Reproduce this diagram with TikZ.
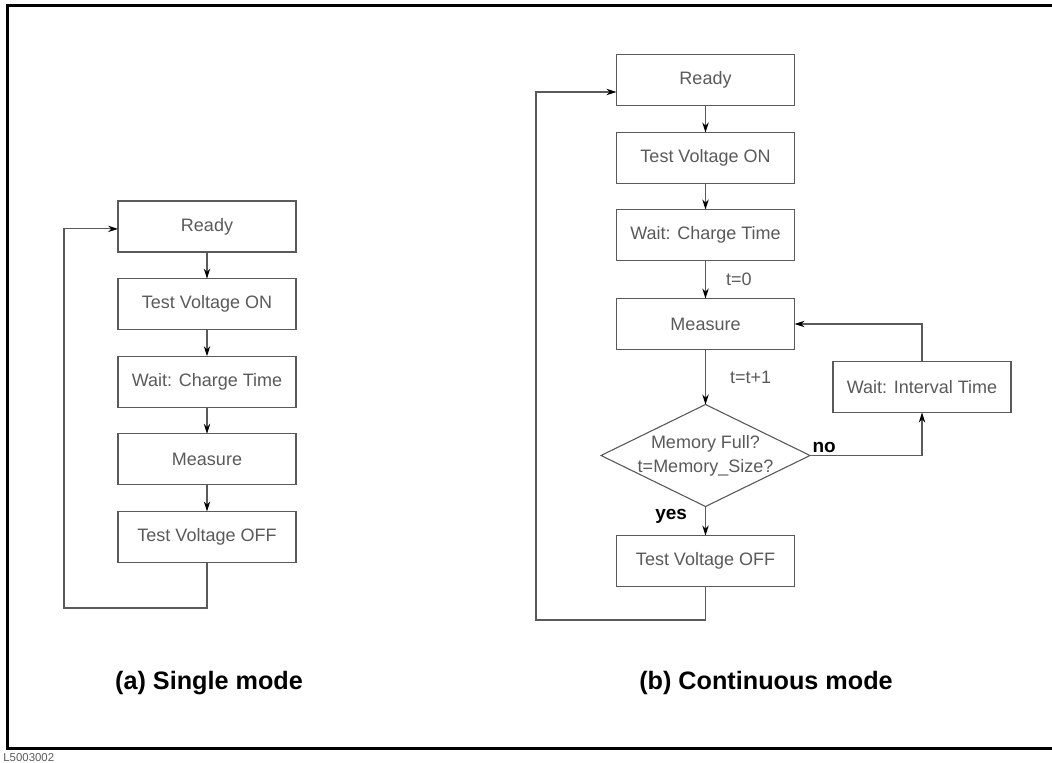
\documentclass[tikz,border=0pt]{standalone}
\usepackage{fontspec}
\setmainfont{Liberation Sans}
\usetikzlibrary{arrows.meta,positioning,shapes.geometric}
\definecolor{ink}{HTML}{000000}
\definecolor{inksoft}{HTML}{5A5A5A}
\tikzset{
  stepbox/.style={rectangle,draw=inksoft,line width=0.55pt,fill=white,
    text=inksoft,align=center,font=\fontsize{9}{11}\selectfont,
    minimum width=89pt,minimum height=25.5pt,inner sep=2pt,outer sep=0pt},
  testbox/.style={diamond,aspect=2,draw=inksoft,line width=0.55pt,fill=white,
    text=inksoft,align=center,font=\fontsize{9}{12}\selectfont,
    minimum width=104.5pt,minimum height=51pt,inner sep=-2pt,outer sep=0pt},
  flowarr/.style={-{Stealth[length=5pt,width=3.2pt,color=ink]},
    line width=0.55pt,draw=inksoft},
  flowlabel/.style={font=\fontsize{9}{11}\selectfont,text=inksoft,inner sep=1pt},
  choicelabel/.style={font=\bfseries\fontsize{9.5}{11}\selectfont,text=ink,inner sep=1pt},
  modecaption/.style={font=\bfseries\fontsize{12.6}{14}\selectfont,text=ink},
}
\begin{document}
\begin{tikzpicture}[x=0.5pt,y=-0.5pt]
  \useasboundingbox (0,0) rectangle (1052,763);
  % frame
  \draw[line width=1.5pt,ink] (1052,5.5) -- (7,5.5) -- (7,748.5) -- (1052,748.5);
  \node[anchor=west,inner sep=0pt,text=inksoft,font=\fontsize{5.7}{6}\selectfont] (figid) at (3,758) {L5003002};

  % (a) single mode
  \node[stepbox] (aready) at (207,226.5) {Ready};
  \node[stepbox,below=13.3pt of aready] (aon) {Test Voltage ON};
  \node[stepbox,below=13.3pt of aon] (await) {Wait: Charge Time};
  \node[stepbox,below=13.3pt of await] (ameas) {Measure};
  \node[stepbox,below=13.3pt of ameas] (aoff) {Test Voltage OFF};
  \coordinate (aloop) at (64,608);

  \draw[flowarr] (aready) -- (aon);
  \draw[flowarr] (aon) -- (await);
  \draw[flowarr] (await) -- (ameas);
  \draw[flowarr] (ameas) -- (aoff);
  \draw[flowarr] (aoff.south) |- (aloop) |- ([yshift=-1.2pt]aready.west);

  \node[modecaption] (capa) at (209,683) {(a) Single mode};

  % (b) continuous mode
  \node[stepbox] (bready) at (705.5,80) {Ready};
  \node[stepbox,below=13.5pt of bready] (bon) {Test Voltage ON};
  \node[stepbox,below=13pt of bon] (bwait) {Wait: Charge Time};
  \node[stepbox,below=19pt of bwait] (bmeas) {Measure};
  \node[testbox,below=27.5pt of bmeas] (bfull) {Memory Full?\\t=Memory\_Size?};
  \node[stepbox,below=14.5pt of bfull] (boff) {Test Voltage OFF};
  \node[stepbox] (binter) at (922,387) {Wait: Interval Time};
  \coordinate (bloop) at (536,620);

  \draw[flowarr] (bready) -- (bon);
  \draw[flowarr] (bon) -- (bwait);
  \draw[flowarr] (bwait) -- (bmeas) node[midway,right=9pt,flowlabel]{t=0};
  \draw[flowarr] (bmeas) -- (bfull) node[midway,right=11pt,flowlabel]{t=t+1};
  \draw[flowarr] (bfull) -- (boff) node[pos=0,anchor=north east,xshift=-8pt,choicelabel]{yes};
  \draw[flowarr] (bfull.east) -| (binter.south) node[pos=0,anchor=south west,choicelabel]{no};
  \draw[flowarr] (binter.north) |- (bmeas.east);
  \draw[flowarr] (boff.south) |- (bloop) |- ([yshift=-6pt]bready.west);

  \node[modecaption] (capb) at (766,683) {(b) Continuous mode};
\end{tikzpicture}
\end{document}
